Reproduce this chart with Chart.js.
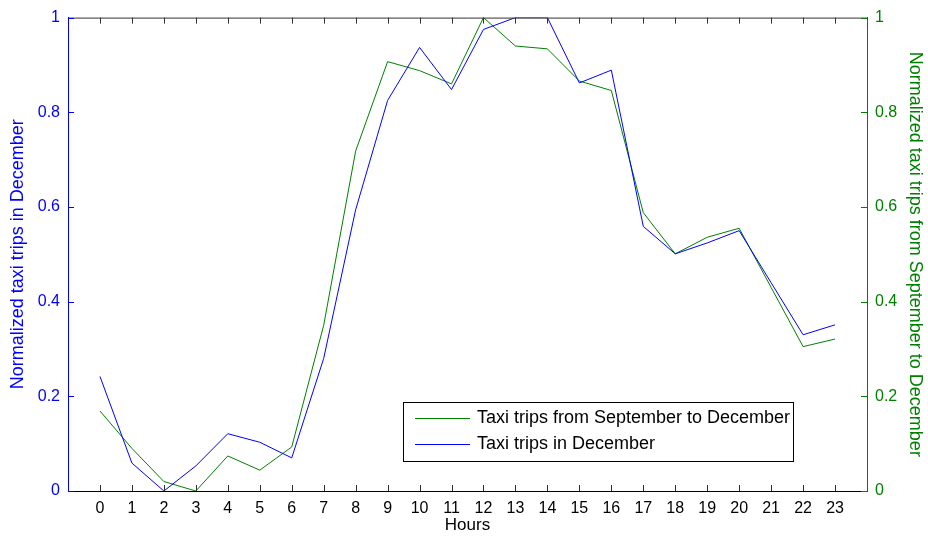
<!DOCTYPE html>
<html>
<head>
<meta charset="utf-8">
<script src="https://cdn.jsdelivr.net/npm/chart.js@4/dist/chart.umd.min.js"></script>
<style>
  html, body { margin: 0; padding: 0; background: #fff; }
  #wrap { width: 928px; height: 541px; }
</style>
</head>
<body>
<div id="wrap"><canvas id="taxiChart"></canvas></div>
<script>
/*
 * Taxi trips per hour, normalized (two y axes, MATLAB look)
 */
const hours = [0, 1, 2, 3, 4, 5, 6, 7, 8, 9, 10, 11, 12, 13, 14, 15, 16, 17, 18, 19, 20, 21, 22, 23]
const decTrips = [0.242, 0.059, 0.0, 0.053, 0.121, 0.103, 0.070, 0.28, 0.594, 0.825, 0.937, 0.848,
                  0.975, 1.0, 1.0, 0.862, 0.889, 0.559, 0.501, 0.524, 0.550, 0.44, 0.330, 0.351]
const sepDecTrips = [0.169, 0.090, 0.02, 0.0, 0.074, 0.044, 0.093, 0.35, 0.718, 0.907, 0.888, 0.860,
                     1.0, 0.94, 0.934, 0.866, 0.846, 0.588, 0.501, 0.536, 0.555, 0.43, 0.305, 0.321]
const yTicks = [0, 0.2, 0.4, 0.6, 0.8, 1]

const BLUE = '#0000ff'
const GREEN = '#008000'
const FONT = 'Liberation Sans, Arial, sans-serif'

Chart.defaults.font.family = FONT
Chart.defaults.font.size = 16

// inward tick marks + top frame line, like MATLAB
const innerTicks = {
    id: 'innerTicks',
    afterDatasetsDraw(chart) {
        const ctx = chart.ctx
        const a = chart.chartArea
        const x = chart.scales.x, yl = chart.scales.y, yr = chart.scales.y1
        const len = 6
        ctx.save()
        ctx.lineWidth = 1
        ctx.strokeStyle = '#333'
        ctx.beginPath()
        ctx.moveTo(a.left, a.top + 0.5)
        ctx.lineTo(a.right, a.top + 0.5)
        x.ticks.forEach(t => {
            const px = Math.round(x.getPixelForValue(t.value)) + 0.5
            ctx.moveTo(px, a.bottom); ctx.lineTo(px, a.bottom - len)
            ctx.moveTo(px, a.top); ctx.lineTo(px, a.top + len)
        })
        ctx.stroke()
        ctx.strokeStyle = BLUE
        ctx.beginPath()
        yl.ticks.forEach(t => {
            const py = Math.round(yl.getPixelForValue(t.value)) + 0.5
            ctx.moveTo(a.left, py); ctx.lineTo(a.left + len, py)
        })
        ctx.stroke()
        ctx.strokeStyle = GREEN
        ctx.beginPath()
        yr.ticks.forEach(t => {
            const py = Math.round(yr.getPixelForValue(t.value)) + 0.5
            ctx.moveTo(a.right, py); ctx.lineTo(a.right - len, py)
        })
        ctx.stroke()
        ctx.restore()
    }
}

// boxed legend inside the plot, lower right
const boxLegend = {
    id: 'boxLegend',
    afterDraw(chart) {
        const ctx = chart.ctx
        const a = chart.chartArea
        const w = 390, h = 59
        const bx = a.right - 74 - w, by = a.bottom - 30 - h
        ctx.save()
        ctx.fillStyle = '#fff'
        ctx.fillRect(bx, by, w, h)
        ctx.strokeStyle = '#000'
        ctx.lineWidth = 1
        ctx.strokeRect(Math.round(bx) + 0.5, Math.round(by) + 0.5, w, h)
        ctx.font = '18px ' + FONT
        ctx.textBaseline = 'middle'
        const order = [1, 0]
        order.forEach((di, i) => {
            const ds = chart.data.datasets[di]
            const ly = by + 16 + i * 26
            ctx.strokeStyle = ds.borderColor
            ctx.beginPath()
            ctx.moveTo(bx + 12, Math.round(ly) + 0.5)
            ctx.lineTo(bx + 67, Math.round(ly) + 0.5)
            ctx.stroke()
            ctx.fillStyle = '#000'
            ctx.fillText(ds.label, bx + 74, ly)
        })
        ctx.restore()
    }
}

new Chart(document.getElementById('taxiChart'), {
    type: 'line',
    data: {
        datasets: [{
            label: 'Taxi trips in December',
            data: hours.map((h, i) => ({x: h, y: decTrips[i]})),
            borderColor: BLUE,
            borderWidth: 1,
            pointRadius: 0,
            tension: 0,
            yAxisID: 'y'
        }, {
            label: 'Taxi trips from September to December',
            data: hours.map((h, i) => ({x: h, y: sepDecTrips[i]})),
            borderColor: GREEN,
            borderWidth: 1,
            pointRadius: 0,
            tension: 0,
            yAxisID: 'y1'
        }]
    },
    options: {
        responsive: true,
        maintainAspectRatio: false,
        animation: false,
        layout: { padding: { top: 15, left: 0, right: 0, bottom: 0 } },
        plugins: {
            legend: { display: false },
            tooltip: { enabled: false }
        },
        scales: {
            x: {
                type: 'linear',
                min: -1,
                max: 24,
                afterBuildTicks: s => { s.ticks = hours.map(v => ({value: v})) },
                afterFit: s => { s.height = 50 },
                grid: { drawOnChartArea: false, drawTicks: false },
                border: { color: '#000', width: 1 },
                ticks: { color: '#000', padding: 8, maxRotation: 0, autoSkip: false },
                title: { display: true, text: 'Hours', color: '#000', font: { size: 17 }, padding: { top: 0, bottom: 5 } }
            },
            y: {
                position: 'left',
                min: 0,
                max: 1,
                afterBuildTicks: s => { s.ticks = yTicks.map(v => ({value: v})) },
                afterFit: s => { s.width = 68 },
                grid: { drawOnChartArea: false, drawTicks: false },
                border: { color: BLUE, width: 1 },
                ticks: { color: BLUE, padding: 8, callback: v => String(v) },
                title: { display: true, text: 'Normalized taxi trips in December', color: BLUE, font: { size: 18 }, padding: { top: 7, bottom: 0 } }
            },
            y1: {
                position: 'right',
                min: 0,
                max: 1,
                afterBuildTicks: s => { s.ticks = yTicks.map(v => ({value: v})) },
                afterFit: s => { s.width = 61 },
                grid: { drawOnChartArea: false, drawTicks: false },
                border: { color: GREEN, width: 1 },
                ticks: { color: GREEN, padding: 8, callback: v => String(v) },
                title: { display: true, text: 'Normalized taxi trips from September to December', color: GREEN, font: { size: 18 }, padding: { top: 2, bottom: 0 } }
            }
        }
    },
    plugins: [innerTicks, boxLegend]
});
</script>
</body>
</html>
